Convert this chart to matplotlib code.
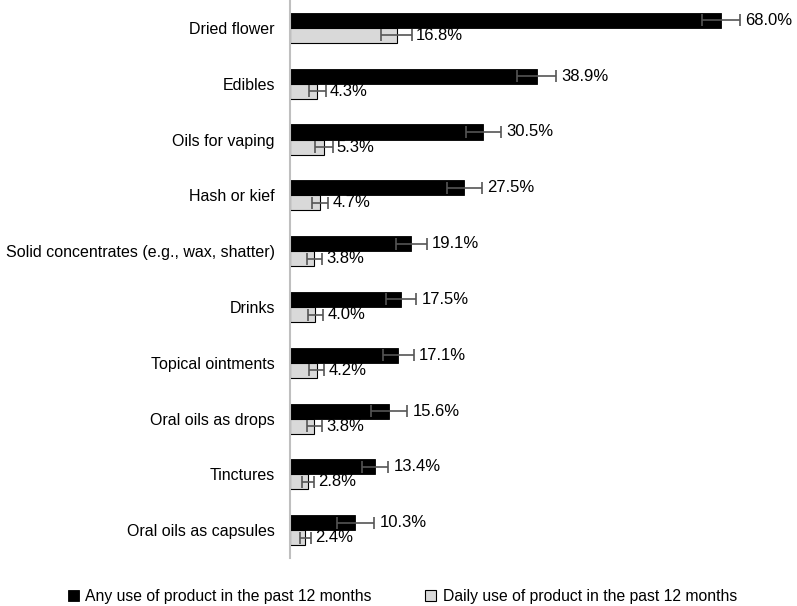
import numpy as np
import matplotlib
matplotlib.use("Agg")
import matplotlib.pyplot as plt

plt.rcParams['font.family'] = ['Liberation Sans', 'DejaVu Sans']

# data
categories = ['Dried flower', 'Edibles', 'Oils for vaping', 'Hash or kief',
              'Solid concentrates (e.g., wax, shatter)', 'Drinks',
              'Topical ointments', 'Oral oils as drops', 'Tinctures',
              'Oral oils as capsules']
any_use = [68.0, 38.9, 30.5, 27.5, 19.1, 17.5, 17.1, 15.6, 13.4, 10.3]
any_err = [3.0, 3.1, 2.8, 2.8, 2.45, 2.4, 2.4, 2.9, 2.1, 2.9]
daily_use = [16.8, 4.3, 5.3, 4.7, 3.8, 4.0, 4.2, 3.8, 2.8, 2.4]
daily_err = [2.4, 1.3, 1.4, 1.3, 1.2, 1.2, 1.2, 1.2, 1.0, 0.9]
series_names = ['Any use of product in the past 12 months',
                'Daily use of product in the past 12 months']

fig = plt.figure(figsize=(7.97, 6.06), dpi=100)
ax = fig.add_axes([0.364, 0.079, 0.62, 0.921])

y = np.arange(len(categories))
h = 0.27
err_kw = dict(ecolor='#555555', elinewidth=1.2, capsize=4, capthick=1.2)

ax.barh(y - h / 2, any_use, height=h, color='black', edgecolor='black',
        linewidth=0.6, xerr=any_err, error_kw=err_kw, label=series_names[0])
ax.barh(y + h / 2, daily_use, height=h, color='#d9d9d9', edgecolor='black',
        linewidth=0.8, xerr=daily_err, error_kw=err_kw, label=series_names[1])

for i in range(len(categories)):
    ax.annotate(f'{any_use[i]:.1f}%', (any_use[i] + any_err[i], y[i] - h / 2),
                xytext=(4, 0), textcoords='offset points', va='center',
                ha='left', fontsize=12)
    ax.annotate(f'{daily_use[i]:.1f}%', (daily_use[i] + daily_err[i], y[i] + h / 2),
                xytext=(3, 0), textcoords='offset points', va='center',
                ha='left', fontsize=12)

ax.set_xlim(0, 78)
ax.set_ylim(len(categories) - 0.5, -0.5)
ax.set_yticks(y)
ax.set_yticklabels(categories, fontsize=11.5)
ax.tick_params(axis='y', length=0, pad=11)
ax.set_xticks([])
for s in ['top', 'right', 'bottom']:
    ax.spines[s].set_visible(False)
ax.spines['left'].set_color('#bfbfbf')
ax.spines['left'].set_linewidth(1.5)

fig.legend(loc='lower center', bbox_to_anchor=(0.505, -0.02), ncol=2, frameon=False,
           fontsize=11.3, handlelength=0.7, handleheight=0.7, handletextpad=0.4,
           columnspacing=3.4)

fig.savefig('out.png', dpi=100)
